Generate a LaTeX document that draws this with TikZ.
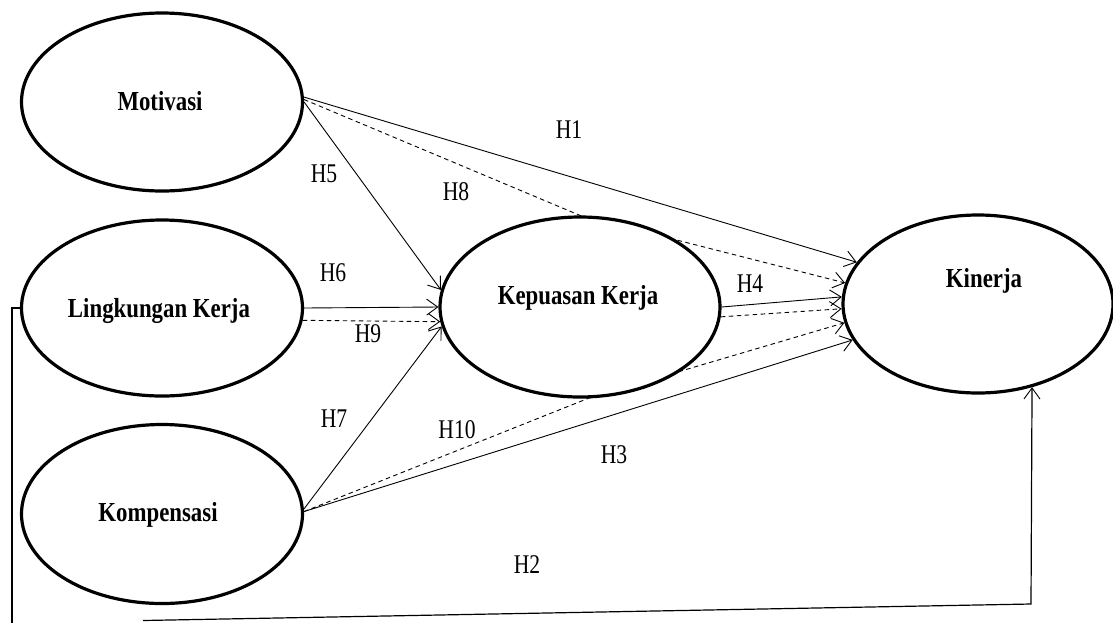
\documentclass[tikz,border=0pt]{standalone}
\usepackage{fontspec}
\setmainfont{Liberation Serif}
\newfontfamily\namefont[FakeStretch=0.83]{Liberation Serif Bold}
\newfontfamily\labfont[FakeStretch=0.8]{Liberation Serif}
\usetikzlibrary{shapes.geometric,arrows.meta,backgrounds}
\begin{document}
\begin{tikzpicture}[x=1pt,y=-1pt,
  ell/.style={draw, ellipse, line width=3.2pt, fill=white, inner sep=0pt},
  nametxt/.style={font=\namefont\fontsize{27.5}{30}\selectfont, inner sep=0pt},
  lab/.style={font=\labfont\fontsize{27}{30}\selectfont, inner sep=0pt},
  arr/.style={line width=0.9pt, -{Straight Barb[length=11pt,width=16pt,line width=0.9pt]}},
  dsh/.style={dash pattern=on 4.5pt off 3.5pt}
]
\useasboundingbox (0,0) rectangle (1113,622);
% ellipses
\node[ell, minimum width=281pt, minimum height=178pt] (mot) at (162,102) {};
\node[ell, minimum width=281pt, minimum height=176pt] (lk) at (162,308) {};
\node[ell, minimum width=281pt, minimum height=179pt] (kom) at (162,514) {};
\node[ell, minimum width=280pt, minimum height=180pt] (kk) at (580,307) {};
\node[ell, minimum width=270pt, minimum height=178pt] (kin) at (978,304) {};
% names
\node[nametxt] (tmot) at (160,101) {Motivasi};
\node[nametxt] (tlk) at (159,311) {Lingkungan Kerja};
\node[nametxt] (tkom) at (158,515) {Kompensasi};
\node[nametxt] (tkk) at (578,298) {Kepuasan Kerja};
\node[nametxt] (tkin) at (984,281) {Kinerja};
% coordinates for the H2 connector
\coordinate (a1) at (12,308);
\coordinate (a2) at (12,624);
\coordinate (b1) at (143,620.5);
\coordinate (b2) at (1031,604);
\begin{scope}[on background layer]
  % to Kinerja
  \draw[arr] (mot.2) -- (kin.161);
  \draw[arr,dsh] (mot.1) -- (kk.north) -- (kin.171);
  \draw[arr] (kk.east) -- (kin.177);
  \draw[arr,dsh] (kk.-4) -- (kin.182.5);
  \draw[arr,dsh] (kom.1) -- (kk.-85) -- (kin.188.5);
  \draw[arr] (kom.1) -- (kin.196);
  % to Kepuasan
  \draw[arr] (mot.0) -- (kk.173);
  \draw[arr] (lk.east) -- (kk.180);
  \draw[arr,dsh] (lk.-5) -- (kk.186);
  \draw[arr] (kom.2) -- (kk.188.5);
  % H2
  \draw[line width=1.1pt] (lk.west) -- (a1) -- (a2);
  \draw[line width=1.2pt, -{Straight Barb[length=11pt,width=16pt,line width=0.9pt]}] (b1) -- (b2) -- (kin.-57);
\end{scope}
% labels
\node[lab] (h1) at (569,130) {H1};
\node[lab] (h5) at (324,174) {H5};
\node[lab] (h8) at (456,192) {H8};
\node[lab] (h6) at (333,273) {H6};
\node[lab] (h9) at (368,334) {H9};
\node[lab] (h4) at (750,284) {H4};
\node[lab] (h7) at (334,419) {H7};
\node[lab] (h10) at (457,430) {H10};
\node[lab] (h3) at (614,455) {H3};
\node[lab] (h2) at (527,565) {H2};
\end{tikzpicture}
\end{document}
